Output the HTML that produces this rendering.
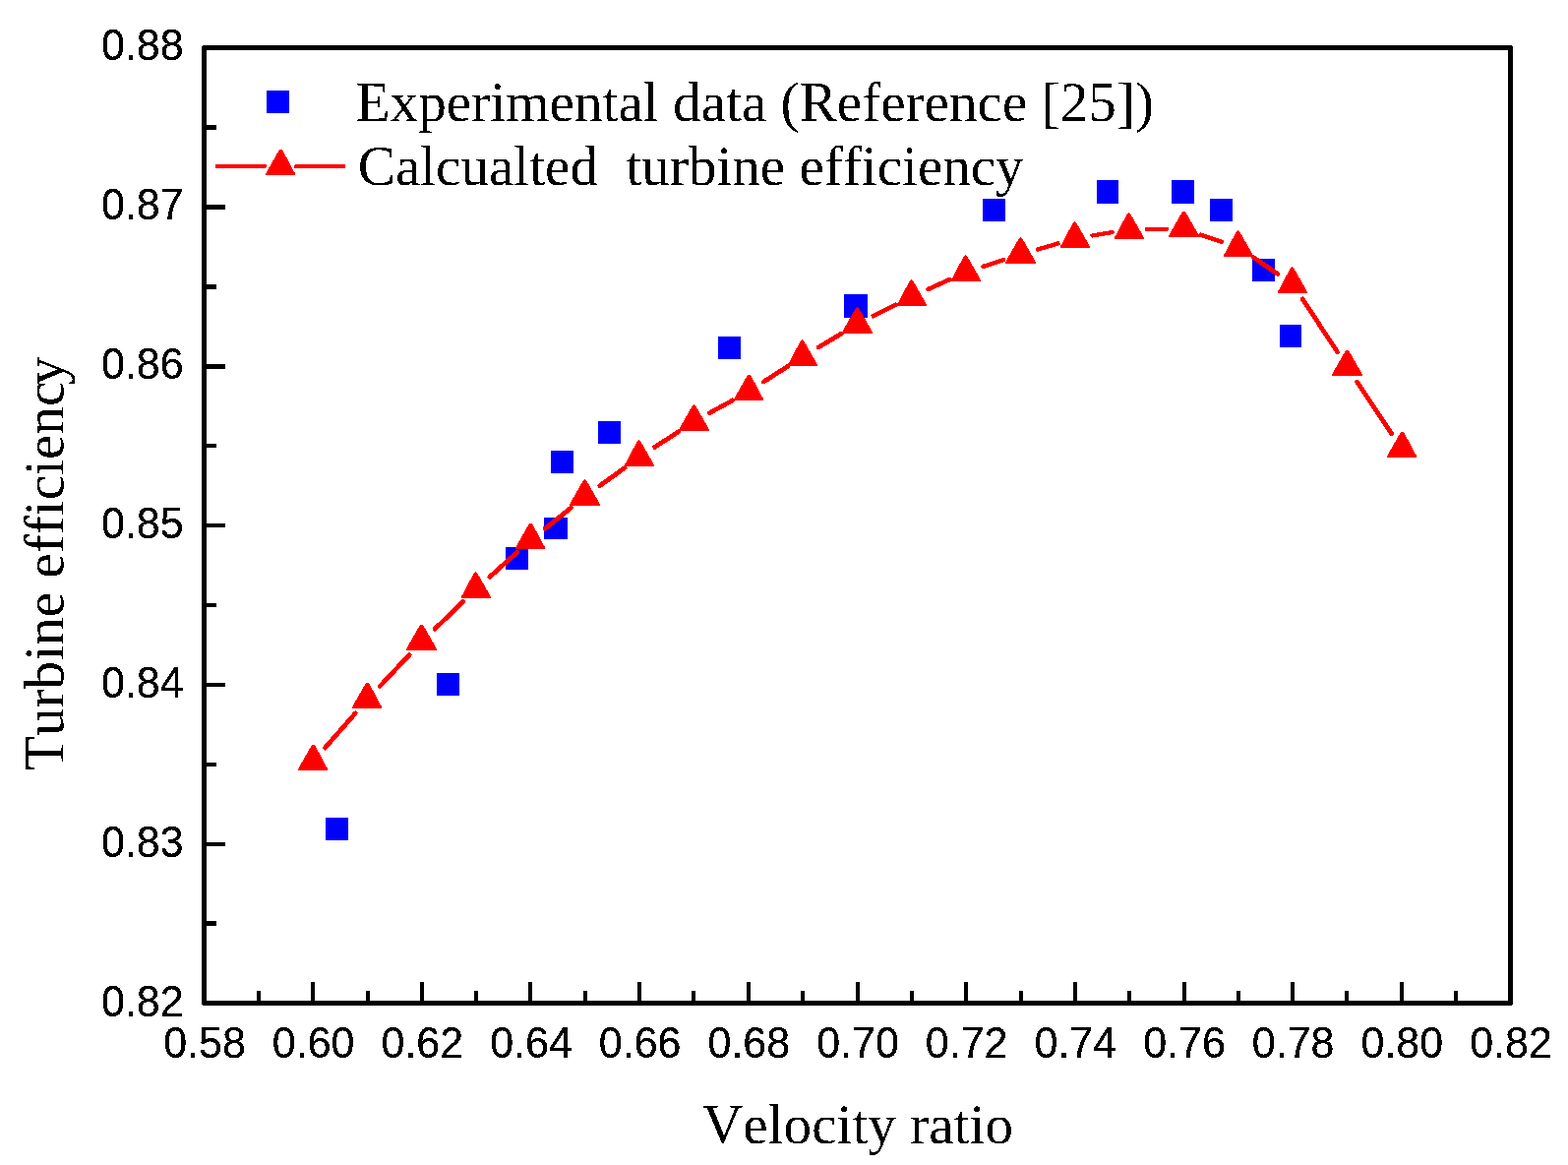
<!DOCTYPE html>
<html lang="en"><head><meta charset="utf-8"><title>Turbine efficiency vs velocity ratio</title>
<style>
html,body{margin:0;padding:0;background:#fff;}
body{width:1594px;height:1184px;overflow:hidden;}
svg{display:block;}
text{white-space:pre;font-kerning:none;font-variant-ligatures:none;font-feature-settings:"liga" 0,"kern" 0,"clig" 0;fill:#000;}
.tk{font-family:"Liberation Sans",Arial,sans-serif;font-size:43px;}
.tt{font-family:"Liberation Serif","Times New Roman",serif;font-size:57.2px;}
</style></head><body>
<svg width="1594" height="1184" viewBox="0 0 1594 1184">
<defs><filter id="binSans" x="0" y="0" width="1594" height="1184" filterUnits="userSpaceOnUse" color-interpolation-filters="sRGB"><feComponentTransfer><feFuncA type="discrete" tableValues="0 1 1"/></feComponentTransfer></filter><filter id="binSerif" x="0" y="0" width="1594" height="1184" filterUnits="userSpaceOnUse" color-interpolation-filters="sRGB"><feComponentTransfer><feFuncA type="discrete" tableValues="0 1"/></feComponentTransfer></filter></defs>
<rect x="0" y="0" width="1594" height="1184" fill="#ffffff"/>
<g id="axes" shape-rendering="crispEdges" fill="#000">
<rect x="205" y="46" width="1333" height="5"/>
<rect x="205" y="1017" width="1333" height="5"/>
<rect x="205" y="46" width="5" height="976"/>
<rect x="1533" y="46" width="5" height="976"/>
<rect x="261" y="1007" width="4" height="11"/>
<rect x="316" y="998" width="4" height="20"/>
<rect x="372" y="1007" width="4" height="11"/>
<rect x="427" y="998" width="4" height="20"/>
<rect x="482" y="1007" width="4" height="11"/>
<rect x="537" y="998" width="4" height="20"/>
<rect x="593" y="1007" width="4" height="11"/>
<rect x="648" y="998" width="4" height="20"/>
<rect x="703" y="1007" width="4" height="11"/>
<rect x="759" y="998" width="4" height="20"/>
<rect x="814" y="1007" width="4" height="11"/>
<rect x="870" y="998" width="4" height="20"/>
<rect x="925" y="1007" width="4" height="11"/>
<rect x="980" y="998" width="4" height="20"/>
<rect x="1036" y="1007" width="4" height="11"/>
<rect x="1091" y="998" width="4" height="20"/>
<rect x="1146" y="1007" width="4" height="11"/>
<rect x="1202" y="998" width="4" height="20"/>
<rect x="1257" y="1007" width="4" height="11"/>
<rect x="1312" y="998" width="4" height="20"/>
<rect x="1367" y="1007" width="4" height="11"/>
<rect x="1423" y="998" width="4" height="20"/>
<rect x="1478" y="1007" width="4" height="11"/>
<rect x="209" y="936" width="11" height="5"/>
<rect x="209" y="856" width="20" height="4"/>
<rect x="209" y="775" width="11" height="4"/>
<rect x="209" y="694" width="20" height="4"/>
<rect x="209" y="613" width="11" height="4"/>
<rect x="209" y="532" width="20" height="4"/>
<rect x="209" y="451" width="11" height="4"/>
<rect x="209" y="370" width="20" height="5"/>
<rect x="209" y="289" width="11" height="5"/>
<rect x="209" y="208" width="20" height="5"/>
<rect x="209" y="127" width="11" height="5"/>
</g>
<g id="frame-corners" shape-rendering="crispEdges" fill="#ffffff">
<rect x="205" y="46" width="1" height="1"/>
<rect x="1537" y="46" width="1" height="1"/>
<rect x="205" y="1021" width="1" height="1"/>
<rect x="1537" y="1021" width="1" height="1"/>
</g>
<g id="ticklabels" class="tk" filter="url(#binSans)">
<text transform="translate(208 1074.5) scale(1 1.04)" text-anchor="middle">0.58</text>
<text transform="translate(318.67 1074.5) scale(1 1.04)" text-anchor="middle">0.60</text>
<text transform="translate(429.33 1074.5) scale(1 1.04)" text-anchor="middle">0.62</text>
<text transform="translate(540 1074.5) scale(1 1.04)" text-anchor="middle">0.64</text>
<text transform="translate(650.67 1074.5) scale(1 1.04)" text-anchor="middle">0.66</text>
<text transform="translate(761.33 1074.5) scale(1 1.04)" text-anchor="middle">0.68</text>
<text transform="translate(872 1074.5) scale(1 1.04)" text-anchor="middle">0.70</text>
<text transform="translate(982.67 1074.5) scale(1 1.04)" text-anchor="middle">0.72</text>
<text transform="translate(1093.33 1074.5) scale(1 1.04)" text-anchor="middle">0.74</text>
<text transform="translate(1204 1074.5) scale(1 1.04)" text-anchor="middle">0.76</text>
<text transform="translate(1314.67 1074.5) scale(1 1.04)" text-anchor="middle">0.78</text>
<text transform="translate(1425.33 1074.5) scale(1 1.04)" text-anchor="middle">0.80</text>
<text transform="translate(1536 1074.5) scale(1 1.04)" text-anchor="middle">0.82</text>
<text transform="translate(186.7 1032.5) scale(1 1.04)" text-anchor="end">0.82</text>
<text transform="translate(186.7 870.5) scale(1 1.04)" text-anchor="end">0.83</text>
<text transform="translate(186.7 708.5) scale(1 1.04)" text-anchor="end">0.84</text>
<text transform="translate(186.7 546.5) scale(1 1.04)" text-anchor="end">0.85</text>
<text transform="translate(186.7 384.5) scale(1 1.04)" text-anchor="end">0.86</text>
<text transform="translate(186.7 222.5) scale(1 1.04)" text-anchor="end">0.87</text>
<text transform="translate(186.7 60.5) scale(1 1.04)" text-anchor="end">0.88</text>
</g>
<g id="titles" class="tt" filter="url(#binSerif)">
<text x="714" y="1162.3">Velocity ratio</text>
<text transform="translate(64.4 783) rotate(-90)" x="0" y="0">Turbine efficienc<tspan dx="-3.5">y</tspan></text>
</g>
<g id="experimental" shape-rendering="crispEdges" fill="#0000ff">
<rect x="331" y="831" width="23" height="23"/>
<rect x="444" y="684" width="23" height="23"/>
<rect x="514" y="556" width="23" height="23"/>
<rect x="553" y="526" width="24" height="22"/>
<rect x="560" y="458" width="23" height="23"/>
<rect x="608" y="428" width="23" height="23"/>
<rect x="730" y="342" width="23" height="23"/>
<rect x="858" y="299" width="24" height="24"/>
<rect x="999" y="202" width="23" height="23"/>
<rect x="1115" y="183" width="22" height="24"/>
<rect x="1191" y="183" width="23" height="24"/>
<rect x="1230" y="202" width="23" height="23"/>
<rect x="1273" y="263" width="23" height="23"/>
<rect x="1301" y="330" width="22" height="23"/>
</g>
<g id="calc-line" stroke="#ff0000" stroke-linecap="round" fill="none" shape-rendering="crispEdges">
<line x1="330.37" y1="760.11" x2="361.3" y2="724.89" stroke-width="4.79"/>
<line x1="386.15" y1="697.51" x2="416.18" y2="665.49" stroke-width="4.8"/>
<line x1="442.13" y1="639.14" x2="470.87" y2="611.36" stroke-width="4.8"/>
<line x1="497.95" y1="586.17" x2="525.72" y2="561.33" stroke-width="4.8"/>
<line x1="553.9" y1="537.42" x2="580.44" y2="516.08" stroke-width="4.78"/>
<line x1="609.79" y1="493.69" x2="635.21" y2="475.31" stroke-width="4.76"/>
<line x1="665.6" y1="454.46" x2="690.06" y2="438.54" stroke-width="4.73"/>
<line x1="721.57" y1="419.64" x2="744.77" y2="406.86" stroke-width="4.68"/>
<line x1="776.33" y1="388.06" x2="800.67" y2="372.44" stroke-width="4.73"/>
<line x1="831.95" y1="353.09" x2="855.71" y2="338.91" stroke-width="4.7"/>
<line x1="887.83" y1="321.23" x2="910.5" y2="309.77" stroke-width="4.64"/>
<line x1="943.47" y1="293.99" x2="965.53" y2="284.01" stroke-width="4.6"/>
<line x1="999.37" y1="270.9" x2="1020.3" y2="264.1" stroke-width="4.47"/>
<line x1="1054.82" y1="253.49" x2="1075.51" y2="247.51" stroke-width="4.43"/>
<line x1="1110.41" y1="239.48" x2="1130.59" y2="236.02" stroke-width="4.27"/>
<line x1="1165.67" y1="233" x2="1186" y2="233" stroke-width="4"/>
<line x1="1220.67" y1="238.74" x2="1241.67" y2="245.76" stroke-width="4.48"/>
<line x1="1274.15" y1="261.74" x2="1298.85" y2="278.26" stroke-width="4.74"/>
<line x1="1324.26" y1="303.91" x2="1359.41" y2="357.59" stroke-width="4.73"/>
<line x1="1379.72" y1="388.33" x2="1414.61" y2="440.67" stroke-width="4.74"/>
<line x1="220.8" y1="169" x2="269" y2="169" stroke-width="4"/>
<line x1="301" y1="169" x2="349.1" y2="169" stroke-width="4"/>
</g>
<g id="calc-markers" fill="#ff0000" shape-rendering="crispEdges">
<polygon points="303,783 333,783 333,781.4 320,757 317,757 303,781.4"/>
<polygon points="358,720 388,720 388,718.4 375,694 372,694 358,718.4"/>
<polygon points="413,661 444,661 444,659.4 430,635 427,635 413,659.4"/>
<polygon points="469,608 499,608 499,606.4 485,582 484,582 484,581 483,581 483,582 482,582 469,606.4"/>
<polygon points="524,558 554,558 554,556.4 541,532 538,532 524,556.4"/>
<polygon points="579,514 610,514 610,512.4 596,488 595,488 595,487 594,487 594,488 593,488 579,512.4"/>
<polygon points="635,474 665,474 665,472.4 651,448 650,448 650,447 649,447 649,448 648,448 635,472.4"/>
<polygon points="690,438 721,438 721,436.4 707,412 706,412 706,411 705,411 705,412 704,412 690,436.4"/>
<polygon points="746,407 776,407 776,405.4 763,381 760,381 746,405.4"/>
<polygon points="801,372 831,372 831,370.4 817,346 816,346 816,345 815,345 815,346 814,346 801,370.4"/>
<polygon points="856,339 887,339 887,337.4 873,313 872,313 872,312 871,312 871,313 870,313 856,337.4"/>
<polygon points="912,311 942,311 942,309.4 928,285 927,285 927,284 926,284 926,285 925,285 912,309.4"/>
<polygon points="967,286 997,286 997,284.4 983,260 982,260 982,259 981,259 981,260 980,260 967,284.4"/>
<polygon points="1022,268 1053,268 1053,266.4 1039,242 1038,242 1038,241 1037,241 1037,242 1036,242 1022,266.4"/>
<polygon points="1078,252 1108,252 1108,250.4 1094,226 1093,226 1093,225 1092,225 1092,226 1091,226 1078,250.4"/>
<polygon points="1133,243 1163,243 1163,241.4 1149,217 1148,217 1148,216 1147,216 1147,217 1146,217 1133,241.4"/>
<polygon points="1188,241 1219,241 1219,239.4 1205,215 1202,215 1188,239.4"/>
<polygon points="1244,261 1274,261 1274,259.4 1260,235 1259,235 1259,234 1258,234 1258,235 1257,235 1244,259.4"/>
<polygon points="1299,298 1329,298 1329,296.4 1315,272 1314,272 1314,271 1313,271 1313,272 1312,272 1299,296.4"/>
<polygon points="1354,382 1385,382 1385,380.4 1371,356 1368,356 1354,380.4"/>
<polygon points="1410,465 1440,465 1440,463.4 1427,439 1424,439 1410,463.4"/>
<polygon points="270,178 300,178 300,176.4 287,152 284,152 270,176.4"/>
</g>
<g id="legend-marker" shape-rendering="crispEdges" fill="#0000ff"><rect x="271" y="92" width="23" height="23"/></g>
<g id="legend" class="tt" filter="url(#binSerif)">
<text x="361.7" y="122.5" xml:space="preserve">Experimental data (Reference [25])</text>
<text x="363.8" y="188" xml:space="preserve" style="font-size:57.1px">Calcualted  turbine efficiency</text>
</g>
</svg>
</body></html>
